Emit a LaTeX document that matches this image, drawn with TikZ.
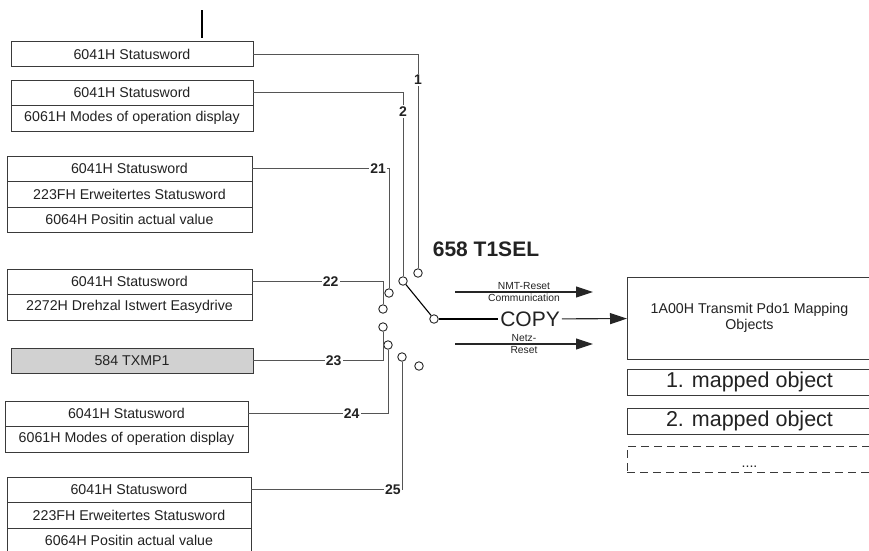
\documentclass[tikz,border=0pt]{standalone}
\usepackage{fontspec}
\setmainfont{Liberation Sans}
\usetikzlibrary{arrows.meta, positioning}
\definecolor{framegray}{HTML}{3A3A3A}
\definecolor{wiregray}{HTML}{555555}
\definecolor{textgray}{HTML}{222222}
\newcommand{\fntrow}{\fontsize{14.2}{16}\selectfont}
\newcommand{\fntnum}{\fontsize{14}{16}\selectfont\bfseries}
\newcommand{\fntbig}{\fontsize{21}{24}\selectfont}
\newcommand{\fntsmall}{\fontsize{10.3}{12.5}\selectfont}
\tikzset{
    rowbox/.style={rectangle, draw=framegray, fill=white, line width=0.9pt, minimum width=242pt, minimum height=25.5pt, inner sep=0pt, outer sep=0pt, font=\fntrow, text=textgray},
    widebox/.style={rowbox, minimum width=245pt},
    greybox/.style={rowbox, fill=black!18},
    mapbox/.style={rowbox, minimum width=245pt},
    contact/.style={circle, draw=black!85, fill=white, line width=0.9pt, minimum size=8.5pt, inner sep=0pt},
    wire/.style={draw=wiregray, line width=1pt},
    numlabel/.style={fill=white, inner sep=1.2pt, font=\fntnum, text=textgray},
    arrow/.style={-{Triangle[length=17pt, width=11pt]}, line width=1.1pt, draw=black!85}
}

\begin{document}
\begin{tikzpicture}[x=1pt, y=-1pt]
    \useasboundingbox (0,0) rectangle (869,550);
    % marker above the first object
    \coordinate (markA) at (202,10);
    \coordinate (markB) at (202,38);
    \draw[line width=1.6pt] (markA) -- (markB);

    % source objects
    \node[rowbox] (sw1) at (132,54) {6041H Statusword};
    \node[rowbox] (sw2) at (132,92.75) {6041H Statusword};
    \node[rowbox, below=0pt of sw2] (mo2) {6061H Modes of operation display};
    \node[widebox] (sw21) at (129.5,168.75) {6041H Statusword};
    \node[widebox, below=0pt of sw21] (es21) {223FH Erweitertes Statusword};
    \node[widebox, below=0pt of es21] (pv21) {6064H Positin actual value};
    \node[widebox] (sw22) at (129.5,281.75) {6041H Statusword};
    \node[widebox, below=0pt of sw22] (dz22) {2272H Drehzal Istwert Easydrive};
    \node[greybox] (tx23) at (132,360.75) {584 TXMP1};
    \node[rowbox, minimum width=243pt] (sw24) at (126.5,413.75) {6041H Statusword};
    \node[rowbox, minimum width=243pt, below=0pt of sw24] (mo24) {6061H Modes of operation display};
    \node[rowbox, minimum width=244pt] (sw25) at (129,489.75) {6041H Statusword};
    \node[rowbox, minimum width=244pt, below=0pt of sw25] (es25) {223FH Erweitertes Statusword};
    \node[rowbox, minimum width=244pt, below=0pt of es25] (pv25) {6064H Positin actual value};

    % selector contacts
    \node[contact] (p1) at (418,273) {};
    \node[contact] (p2) at (403,281) {};
    \node[contact] (p21) at (389,293) {};
    \node[contact] (p22) at (383,309) {};
    \node[contact] (p23) at (383,327) {};
    \node[contact] (p24) at (388,345) {};
    \node[contact] (p25) at (402,357) {};
    \node[contact] (p26) at (419,366) {};
    \node[contact] (com) at (434,319) {};

    \draw[wire] (sw1.east) -| node[numlabel, pos=0.56] {1} (p1.north);
    \draw[wire] (sw2.east) -| node[numlabel, pos=0.551] {2} (p2.north);
    \draw[wire] (sw21.east) -| node[numlabel, pos=0.46] {21} (p21.north);
    \draw[wire] (sw22.east) -| node[numlabel, pos=0.30] {22} (p22.north);
    \draw[wire] (tx23.east) -| node[numlabel, pos=0.31] {23} (p23.south);
    \draw[wire] (sw24.east) -| node[numlabel, pos=0.37] {24} (p24.south);
    \draw[wire] (sw25.east) -| node[numlabel, pos=0.47] {25} (p25.south);
    \draw[line width=1.1pt] (p2) -- (com);

    % copy into the mapping
    \node[font=\fntbig\bfseries, text=textgray] (tsel) at (486,249) {658 T1SEL};
    \node[font=\fntbig, text=textgray, inner sep=2pt] (copy) at (530,319) {COPY};
    \node[mapbox, minimum height=82pt, align=center] (tpdo) at (749.5,318) {1A00H Transmit Pdo1 Mapping\\Objects};
    \draw[line width=1.1pt] (com) -- (copy);
    \draw[arrow] (copy) -- (tpdo);

    \coordinate (nmtS) at (455,292);
    \coordinate (nmtE) at (593,292);
    \coordinate (netS) at (455,344);
    \coordinate (netE) at (593,344);
    \draw[arrow] (nmtS) -- node[font=\fntsmall, align=center, text=textgray] {NMT-Reset\\Communication} (nmtE);
    \draw[arrow] (netS) -- node[font=\fntsmall, align=center, text=textgray] {Netz-\\Reset} (netE);

    \node[mapbox, font=\fontsize{21.5}{24}\selectfont, minimum height=26pt] (map1) at (749.5,382) {1. mapped object};
    \node[mapbox, font=\fontsize{21.5}{24}\selectfont, minimum height=26pt] (map2) at (749.5,421) {2. mapped object};
    \node[mapbox, dash pattern=on 8pt off 5pt, minimum height=26pt, text height=16pt, text depth=0pt] (mapn) at (749.5,459) {....};
\end{tikzpicture}
\end{document}
